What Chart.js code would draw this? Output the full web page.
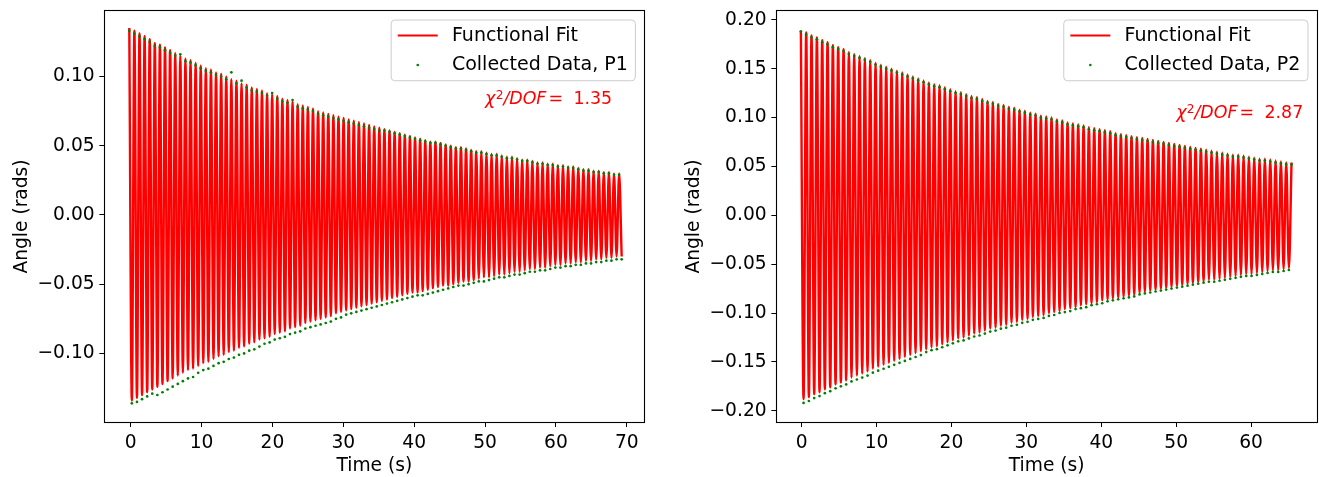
<!DOCTYPE html>
<html>
<head>
<meta charset="utf-8">
<script src="https://cdn.jsdelivr.net/npm/chart.js@4.4.1/dist/chart.umd.min.js"></script>
<style>
html,body{margin:0;padding:0;background:#ffffff;overflow:hidden;}
#wrap{position:relative;width:1319px;height:477px;background:#ffffff;}
canvas{position:absolute;top:0;}
#c1{left:0;width:660px;height:477px;}
#c2{left:672px;width:647px;height:477px;}
</style>
</head>
<body>
<div id="wrap">
<canvas id="c1" width="660" height="477"></canvas>
<canvas id="c2" width="647" height="477"></canvas>
</div>
<script>
// ---------- Panel 1 (P1) ----------
const fit1Time = [
-0.2,0.16,0.52,0.88,1.24,1.6,1.96,2.32,2.68,3.04,
3.4,3.76,4.12,4.48,4.84,5.2,5.56,5.92,6.28,6.64,
7.0,7.36,7.72,8.08,8.44,8.8,9.16,9.52,9.88,10.24,
10.6,10.96,11.32,11.68,12.04,12.4,12.76,13.12,13.48,13.84,
14.2,14.56,14.92,15.28,15.64,16.0,16.36,16.72,17.08,17.44,
17.8,18.16,18.52,18.88,19.24,19.6,19.96,20.32,20.68,21.04,
21.4,21.76,22.12,22.48,22.84,23.2,23.56,23.92,24.28,24.64,
25.0,25.36,25.72,26.08,26.44,26.8,27.16,27.52,27.88,28.24,
28.6,28.96,29.32,29.68,30.04,30.4,30.76,31.12,31.48,31.84,
32.2,32.56,32.92,33.28,33.64,34.0,34.36,34.72,35.08,35.44,
35.8,36.16,36.52,36.88,37.24,37.6,37.96,38.32,38.68,39.04,
39.4,39.76,40.12,40.48,40.84,41.2,41.56,41.92,42.28,42.64,
43.0,43.36,43.72,44.08,44.44,44.8,45.16,45.52,45.88,46.24,
46.6,46.96,47.32,47.68,48.04,48.4,48.76,49.12,49.48,49.84,
50.2,50.56,50.92,51.28,51.64,52.0,52.36,52.72,53.08,53.44,
53.8,54.16,54.52,54.88,55.24,55.6,55.96,56.32,56.68,57.04,
57.4,57.76,58.12,58.48,58.84,59.2,59.56,59.92,60.28,60.64,
61.0,61.36,61.72,62.08,62.44,62.8,63.16,63.52,63.88,64.24,
64.6,64.96,65.32,65.68,66.04,66.4,66.76,67.12,67.48,67.84,
68.2,68.56,68.92,69.28];
const fit1Angle = [
0.135,-0.134,0.133,-0.132,0.131,-0.130,0.129,-0.128,0.127,-0.126,
0.124,-0.124,0.123,-0.122,0.121,-0.120,0.119,-0.118,0.117,-0.116,
0.115,-0.114,0.113,-0.112,0.112,-0.111,0.110,-0.109,0.108,-0.107,
0.106,-0.106,0.105,-0.104,0.103,-0.102,0.102,-0.101,0.100,-0.099,
0.098,-0.098,0.097,-0.096,0.095,-0.095,0.094,-0.093,0.092,-0.092,
0.091,-0.090,0.090,-0.089,0.088,-0.088,0.087,-0.086,0.086,-0.085,
0.084,-0.084,0.083,-0.082,0.082,-0.081,0.080,-0.080,0.079,-0.078,
0.078,-0.077,0.077,-0.076,0.075,-0.075,0.074,-0.074,0.073,-0.073,
0.072,-0.071,0.071,-0.070,0.070,-0.069,0.069,-0.068,0.068,-0.067,
0.067,-0.066,0.066,-0.065,0.065,-0.064,0.064,-0.063,0.063,-0.062,
0.062,-0.061,0.061,-0.060,0.060,-0.059,0.059,-0.058,0.058,-0.057,
0.057,-0.056,0.056,-0.056,0.055,-0.055,0.054,-0.054,0.053,-0.053,
0.053,-0.052,0.052,-0.051,0.051,-0.051,0.050,-0.050,0.049,-0.049,
0.049,-0.048,0.048,-0.048,0.047,-0.047,0.046,-0.046,0.046,-0.045,
0.045,-0.045,0.044,-0.044,0.044,-0.043,0.043,-0.043,0.042,-0.042,
0.042,-0.041,0.041,-0.041,0.040,-0.040,0.040,-0.039,0.039,-0.039,
0.038,-0.038,0.038,-0.038,0.037,-0.037,0.037,-0.036,0.036,-0.036,
0.036,-0.035,0.035,-0.035,0.035,-0.034,0.034,-0.034,0.033,-0.033,
0.033,-0.033,0.032,-0.032,0.032,-0.032,0.031,-0.031,0.031,-0.031,
0.030,-0.030,0.030,-0.030];
const data1Angle = [
0.133,-0.136,0.131,-0.135,0.129,-0.133,0.127,-0.131,0.125,-0.129,
0.122,-0.130,0.121,-0.128,0.119,-0.126,0.117,-0.124,0.115,-0.122,
0.116,-0.120,0.111,-0.118,0.110,-0.117,0.108,-0.114,0.106,-0.112,
0.104,-0.111,0.103,-0.109,0.101,-0.107,0.100,-0.106,0.098,-0.104,
0.103,-0.103,0.095,-0.101,0.097,-0.100,0.092,-0.098,0.090,-0.097,
0.089,-0.095,0.088,-0.093,0.086,-0.092,0.088,-0.090,0.084,-0.089,
0.082,-0.088,0.081,-0.086,0.083,-0.085,0.078,-0.084,0.077,-0.082,
0.076,-0.081,0.075,-0.080,0.073,-0.079,0.072,-0.078,0.071,-0.077,
0.070,-0.075,0.069,-0.074,0.068,-0.072,0.067,-0.071,0.066,-0.070,
0.065,-0.069,0.064,-0.068,0.063,-0.067,0.062,-0.066,0.061,-0.065,
0.061,-0.064,0.060,-0.063,0.059,-0.062,0.058,-0.061,0.057,-0.060,
0.056,-0.059,0.055,-0.058,0.054,-0.058,0.053,-0.057,0.052,-0.056,
0.052,-0.055,0.051,-0.054,0.050,-0.053,0.049,-0.052,0.048,-0.051,
0.048,-0.051,0.047,-0.050,0.046,-0.049,0.045,-0.048,0.045,-0.048,
0.044,-0.047,0.043,-0.046,0.043,-0.045,0.042,-0.045,0.041,-0.044,
0.041,-0.043,0.040,-0.043,0.039,-0.042,0.039,-0.041,0.038,-0.041,
0.037,-0.040,0.037,-0.040,0.036,-0.039,0.036,-0.038,0.035,-0.038,
0.035,-0.037,0.034,-0.037,0.034,-0.036,0.033,-0.036,0.032,-0.035,
0.032,-0.035,0.031,-0.034,0.031,-0.034,0.030,-0.033,0.030,-0.033,
0.029,-0.032,0.029,-0.032];

// ---------- Panel 2 (P2) ----------
const fit2Time = [
-0.1,0.26,0.61,0.97,1.32,1.68,2.04,2.39,2.75,3.1,
3.46,3.82,4.17,4.53,4.88,5.24,5.6,5.95,6.31,6.66,
7.02,7.38,7.73,8.09,8.44,8.8,9.16,9.51,9.87,10.22,
10.58,10.94,11.29,11.65,12.0,12.36,12.72,13.07,13.43,13.78,
14.14,14.5,14.85,15.21,15.56,15.92,16.28,16.63,16.99,17.34,
17.7,18.06,18.41,18.77,19.12,19.48,19.84,20.19,20.55,20.9,
21.26,21.62,21.97,22.33,22.68,23.04,23.4,23.75,24.11,24.46,
24.82,25.18,25.53,25.89,26.24,26.6,26.96,27.31,27.67,28.02,
28.38,28.74,29.09,29.45,29.8,30.16,30.52,30.87,31.23,31.58,
31.94,32.3,32.65,33.01,33.36,33.72,34.08,34.43,34.79,35.14,
35.5,35.86,36.21,36.57,36.92,37.28,37.64,37.99,38.35,38.7,
39.06,39.42,39.77,40.13,40.48,40.84,41.2,41.55,41.91,42.26,
42.62,42.98,43.33,43.69,44.04,44.4,44.76,45.11,45.47,45.82,
46.18,46.54,46.89,47.25,47.6,47.96,48.32,48.67,49.03,49.38,
49.74,50.1,50.45,50.81,51.16,51.52,51.88,52.23,52.59,52.94,
53.3,53.66,54.01,54.37,54.72,55.08,55.44,55.79,56.15,56.5,
56.86,57.22,57.57,57.93,58.28,58.64,59.0,59.35,59.71,60.06,
60.42,60.78,61.13,61.49,61.84,62.2,62.56,62.91,63.27,63.62,
63.98,64.34,64.69,65.05,65.4];
const fit2Angle = [
0.189,-0.188,0.187,-0.186,0.184,-0.183,0.182,-0.181,0.179,-0.178,
0.177,-0.176,0.174,-0.173,0.172,-0.171,0.170,-0.169,0.167,-0.166,
0.165,-0.164,0.163,-0.162,0.161,-0.160,0.159,-0.157,0.156,-0.155,
0.154,-0.153,0.152,-0.151,0.150,-0.149,0.148,-0.147,0.146,-0.145,
0.144,-0.143,0.142,-0.141,0.140,-0.139,0.138,-0.137,0.136,-0.135,
0.134,-0.134,0.133,-0.132,0.131,-0.130,0.129,-0.128,0.127,-0.126,
0.126,-0.125,0.124,-0.123,0.122,-0.121,0.121,-0.120,0.119,-0.118,
0.117,-0.116,0.116,-0.115,0.114,-0.113,0.113,-0.112,0.111,-0.110,
0.110,-0.109,0.108,-0.107,0.107,-0.106,0.105,-0.104,0.104,-0.103,
0.102,-0.102,0.101,-0.100,0.100,-0.099,0.098,-0.098,0.097,-0.096,
0.095,-0.095,0.094,-0.094,0.093,-0.092,0.092,-0.091,0.090,-0.090,
0.089,-0.089,0.088,-0.087,0.087,-0.086,0.086,-0.085,0.084,-0.084,
0.083,-0.083,0.082,-0.082,0.081,-0.081,0.080,-0.079,0.079,-0.078,
0.078,-0.077,0.077,-0.076,0.076,-0.075,0.075,-0.074,0.074,-0.073,
0.073,-0.072,0.072,-0.071,0.071,-0.070,0.070,-0.069,0.069,-0.068,
0.068,-0.067,0.067,-0.066,0.066,-0.066,0.065,-0.065,0.064,-0.064,
0.063,-0.063,0.062,-0.062,0.062,-0.061,0.061,-0.060,0.060,-0.060,
0.059,-0.059,0.058,-0.058,0.058,-0.057,0.057,-0.056,0.056,-0.056,
0.055,-0.055,0.054,-0.054,0.054];
const data2Angle = [
0.188,-0.192,0.185,-0.190,0.182,-0.187,0.180,-0.185,0.177,-0.182,
0.175,-0.180,0.172,-0.177,0.170,-0.175,0.168,-0.173,0.165,-0.170,
0.163,-0.168,0.161,-0.166,0.159,-0.164,0.157,-0.161,0.154,-0.159,
0.152,-0.157,0.150,-0.155,0.148,-0.153,0.146,-0.151,0.144,-0.149,
0.142,-0.147,0.140,-0.145,0.138,-0.143,0.136,-0.140,0.134,-0.138,
0.132,-0.137,0.131,-0.135,0.129,-0.133,0.127,-0.131,0.125,-0.129,
0.124,-0.128,0.122,-0.126,0.120,-0.124,0.119,-0.123,0.117,-0.121,
0.115,-0.119,0.114,-0.118,0.112,-0.116,0.111,-0.115,0.109,-0.113,
0.108,-0.112,0.106,-0.110,0.105,-0.109,0.103,-0.107,0.102,-0.106,
0.100,-0.105,0.099,-0.103,0.098,-0.102,0.096,-0.100,0.095,-0.099,
0.093,-0.098,0.092,-0.096,0.091,-0.095,0.090,-0.094,0.088,-0.092,
0.087,-0.091,0.086,-0.090,0.085,-0.088,0.084,-0.087,0.082,-0.086,
0.081,-0.085,0.080,-0.084,0.079,-0.083,0.078,-0.081,0.077,-0.080,
0.076,-0.079,0.075,-0.078,0.074,-0.077,0.073,-0.076,0.072,-0.075,
0.071,-0.074,0.070,-0.073,0.069,-0.072,0.068,-0.071,0.067,-0.070,
0.066,-0.069,0.065,-0.068,0.064,-0.068,0.063,-0.067,0.062,-0.066,
0.061,-0.065,0.060,-0.064,0.060,-0.063,0.059,-0.062,0.058,-0.062,
0.057,-0.061,0.056,-0.060,0.056,-0.059,0.055,-0.058,0.054,-0.058,
0.053,-0.057,0.052,-0.056,0.052];

// ---------- Axes, ticks, labels ----------
const xTicks1 = [0,10,20,30,40,50,60,70];
const yTicks1 = [-0.10,-0.05,0.00,0.05,0.10];
const xTicks2 = [0,10,20,30,40,50,60];
const yTicks2 = [-0.20,-0.15,-0.10,-0.05,0.00,0.05,0.10,0.15,0.20];
const xLimits1 = [-3.77, 72.53];
const yLimits1 = [-0.1497, 0.1475];
const xLimits2 = [-3.42, 68.84];
const yLimits2 = [-0.2118, 0.2093];
const xTitle = 'Time (s)';
const yTitle = 'Angle (rads)';
const fitLabel = 'Functional Fit';
const dataLabels = ['Collected Data, P1', 'Collected Data, P2'];
const chiValues = ['1.35', '2.87'];
const chiAnchor1 = [50, 0.08];
const chiAnchor2 = [50, 0.10];

const FONT = 'DejaVu Sans';
const FS = 18.67;
const RED = '#ff0000';
const GREEN = '#008000';

function fmtY(v){
  const s = Math.abs(v) < 1e-9 ? '0.00' : v.toFixed(2);
  return s.replace('-', '\u2212');
}

const decorPlugin = {
  id: 'decor',
  afterDatasetsDraw(chart) {
    const o = chart.options.plugins.decor;
    const ctx = chart.ctx, a = chart.chartArea;
    ctx.save();
    // frame (all four spines)
    ctx.strokeStyle = '#000000';
    ctx.lineWidth = 1.1;
    const L = Math.floor(a.left) + 0.5, R = Math.floor(a.right) + 0.5;
    const T = Math.floor(a.top) + 0.5, B = Math.floor(a.bottom) + 0.5;
    ctx.strokeRect(L, T, R - L, B - T);

    // chi^2 annotation
    const xs = chart.scales.x, ys = chart.scales.y;
    let x = xs.getPixelForValue(o.chiAt[0]);
    const y = ys.getPixelForValue(o.chiAt[1]);
    const fs = 17.4;
    ctx.fillStyle = RED;
    ctx.textAlign = 'left';
    ctx.textBaseline = 'alphabetic';
    ctx.font = 'italic ' + fs + 'px "' + FONT + '"';
    ctx.fillText('\u03c7', x, y); x += ctx.measureText('\u03c7').width;
    ctx.font = (fs * 0.7) + 'px "' + FONT + '"';
    ctx.fillText('2', x + 0.3, y - 5); x += ctx.measureText('2').width + 0.3;
    ctx.font = 'italic ' + fs + 'px "' + FONT + '"';
    ctx.fillText('/DOF', x, y); x += ctx.measureText('/DOF').width;
    ctx.font = fs + 'px "' + FONT + '"';
    x += fs * 0.12;
    ctx.fillText('=', x, y); x += ctx.measureText('=').width + fs * 0.28;
    ctx.fillText(' ' + o.chi, x, y);

    // legend
    const fl = 19;
    ctx.font = fl + 'px "' + FONT + '"';
    const tw = Math.max(ctx.measureText(o.fitLabel).width, ctx.measureText(o.dataLabel).width);
    const pad = 0.4 * fl, hl = 2 * fl, htp = 0.8 * fl;
    const bw = pad + hl + htp + tw + pad;
    const bh = 60.7;
    const right = a.right - 0.5 * FS, top = a.top + 0.5 * FS;
    const left = right - bw;
    const r = 0.2 * FS;
    ctx.beginPath();
    ctx.moveTo(left + r, top);
    ctx.lineTo(right - r, top); ctx.quadraticCurveTo(right, top, right, top + r);
    ctx.lineTo(right, top + bh - r); ctx.quadraticCurveTo(right, top + bh, right - r, top + bh);
    ctx.lineTo(left + r, top + bh); ctx.quadraticCurveTo(left, top + bh, left, top + bh - r);
    ctx.lineTo(left, top + r); ctx.quadraticCurveTo(left, top, left + r, top);
    ctx.closePath();
    ctx.fillStyle = 'rgba(255,255,255,0.8)';
    ctx.fill();
    ctx.strokeStyle = '#cccccc';
    ctx.lineWidth = 1;
    ctx.stroke();
    // handles
    ctx.strokeStyle = RED; ctx.lineWidth = 2; ctx.lineCap = 'square';
    ctx.beginPath();
    ctx.moveTo(left + pad, top + 15.5); ctx.lineTo(left + pad + hl, top + 15.5);
    ctx.stroke();
    ctx.fillStyle = GREEN;
    ctx.beginPath(); ctx.arc(left + pad + hl / 2, top + 45, 1.3, 0, Math.PI * 2); ctx.fill();
    // labels
    ctx.fillStyle = '#000000';
    ctx.fillText(o.fitLabel, left + pad + hl + htp, top + 21);
    ctx.fillText(o.dataLabel, left + pad + hl + htp, top + 50);
    ctx.restore();
  }
};

function makePanel(canvasId, times, fitVals, dataVals, xTicks, yTicks, xLim, yLim, dataLabel, chi, chiAt, padRight) {
  const fitPts = times.map((t, i) => ({x: t, y: fitVals[i]}));
  const dataPts = times.map((t, i) => ({x: t, y: dataVals[i]}));
  const tickFont = {family: FONT, size: FS};
  return new Chart(document.getElementById(canvasId), {
    type: 'scatter',
    data: {
      datasets: [
        {label: dataLabel, data: dataPts, pointRadius: 1.35, pointHoverRadius: 0,
         backgroundColor: GREEN, borderColor: GREEN, borderWidth: 0, showLine: false},
        {label: fitLabel, data: fitPts, showLine: true, pointRadius: 0, pointHoverRadius: 0,
         borderColor: RED, backgroundColor: RED, borderWidth: 2.4,
         cubicInterpolationMode: 'monotone',
         borderJoinStyle: 'round', borderCapStyle: 'butt', fill: false}
      ]
    },
    options: {
      responsive: false,
      animation: false,
      devicePixelRatio: 1,
      events: [],
      layout: {padding: {left: 0, right: padRight, top: 10.7, bottom: 0}},
      plugins: {
        legend: {display: false},
        tooltip: {enabled: false},
        decor: {chi: chi, chiAt: chiAt, fitLabel: fitLabel, dataLabel: dataLabel}
      },
      scales: {
        x: {
          type: 'linear', position: 'bottom', min: xLim[0], max: xLim[1],
          afterBuildTicks: s => { s.ticks = xTicks.map(v => ({value: v})); },
          afterFit: s => { s.height = 54.7; s.paddingLeft = 0; s.paddingRight = 0; },
          grid: {display: true, drawOnChartArea: false, drawTicks: true, tickLength: 4.67, color: '#000000', lineWidth: 1},
          border: {display: false},
          ticks: {color: '#000000', font: tickFont, padding: 4.67, maxRotation: 0, autoSkip: false,
                  callback: v => String(Math.round(v))},
          title: {display: true, text: xTitle, color: '#000000', font: tickFont, padding: {top: 0, bottom: 0}}
        },
        y: {
          type: 'linear', position: 'left', min: yLim[0], max: yLim[1],
          afterBuildTicks: s => { s.ticks = yTicks.map(v => ({value: v})); },
          afterFit: s => { s.width = 104; s.paddingTop = 0; s.paddingBottom = 0; },
          grid: {display: true, drawOnChartArea: false, drawTicks: true, tickLength: 4.67, color: '#000000', lineWidth: 1},
          border: {display: false},
          ticks: {color: '#000000', font: tickFont, padding: 4.67, autoSkip: false, callback: v => fmtY(v)},
          title: {display: true, text: yTitle, color: '#000000', font: tickFont, padding: {top: 10.5, bottom: 0}}
        }
      }
    },
    plugins: [decorPlugin]
  });
}

makePanel('c1', fit1Time, fit1Angle, data1Angle, xTicks1, yTicks1, xLimits1, yLimits1, dataLabels[0], chiValues[0], chiAnchor1, 15.3);
makePanel('c2', fit2Time, fit2Angle, data2Angle, xTicks2, yTicks2, xLimits2, yLimits2, dataLabels[1], chiValues[1], chiAnchor2, 1.7);
</script>
</body>
</html>
